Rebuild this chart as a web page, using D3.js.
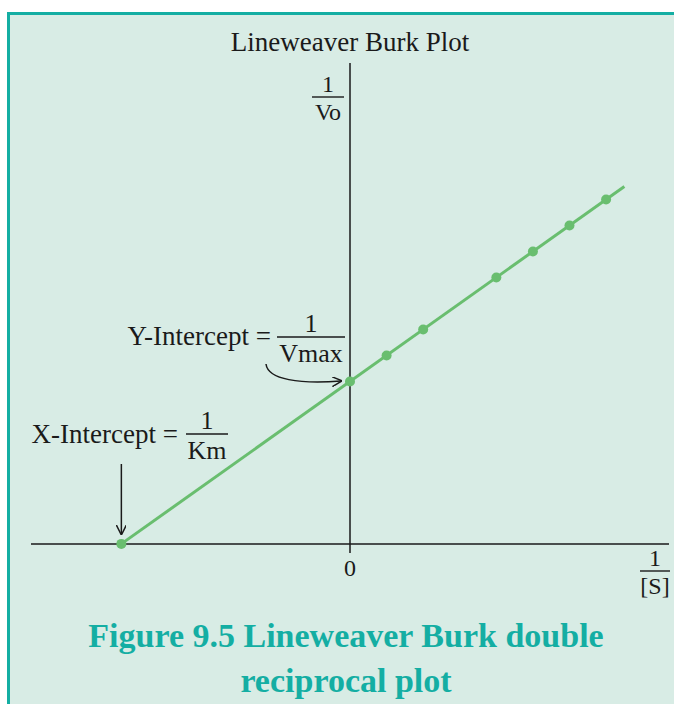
<!DOCTYPE html>
<html>
<head>
<meta charset="utf-8">
<script src="https://cdn.jsdelivr.net/npm/d3@7"></script>
<style>
  body { margin: 0; background: #fff; }
  svg { display: block; }
  text { font-family: "Liberation Serif", "DejaVu Serif", serif; fill: #1a1a1a; }
</style>
</head>
<body>
<svg width="674" height="704"></svg>
<script>
var svg = d3.select("svg"),
  width = +svg.attr("width"),
  height = +svg.attr("height");

// data: 1/[S] values and matching 1/Vo values
var invS = [1, 2, 4, 5, 6, 7];
var invV = [7.25, 8.25, 10.25, 11.25, 12.25, 13.25];
var xIntercept = [-6.25, 0];
var yIntercept = [0, 6.25];
var lineEnd = [7.5, 13.75];

var x = d3.scaleLinear().domain([-8.72, 8.72]).range([31, 669]);
var y = d3.scaleLinear().domain([-0.35, 18.5]).range([553, 63]);

var green = "#69be6f";
var teal = "#14aea3";

// panel
svg.append("rect")
  .attr("x", 8.5).attr("y", 13.5)
  .attr("width", 680).attr("height", 700)
  .attr("fill", "#d8ece5")
  .attr("stroke", teal)
  .attr("stroke-width", 3);

var defs = svg.append("defs");
defs.append("marker")
  .attr("id", "arrow")
  .attr("viewBox", "0 0 10 10")
  .attr("refX", 9).attr("refY", 5)
  .attr("markerWidth", 10).attr("markerHeight", 10)
  .attr("markerUnits", "userSpaceOnUse")
  .attr("orient", "auto")
  .append("path")
  .attr("d", "M0,0 L10,5 L0,10")
  .attr("fill", "none")
  .attr("stroke", "#1a1a1a")
  .attr("stroke-width", 1.5);

// axes
svg.append("line")
  .attr("x1", x.range()[0]).attr("x2", x.range()[1])
  .attr("y1", y(0)).attr("y2", y(0))
  .attr("stroke", "#1a1a1a").attr("stroke-width", 1.5);

svg.append("line")
  .attr("x1", x(0)).attr("x2", x(0))
  .attr("y1", y.range()[0]).attr("y2", y.range()[1])
  .attr("stroke", "#1a1a1a").attr("stroke-width", 1.5);

// regression line
svg.append("line")
  .attr("x1", x(xIntercept[0])).attr("y1", y(xIntercept[1]))
  .attr("x2", x(lineEnd[0])).attr("y2", y(lineEnd[1]))
  .attr("stroke", green).attr("stroke-width", 3);

var pts = invS.map(function(d, i) { return [d, invV[i]]; });
pts.push(xIntercept, yIntercept);

svg.append("g")
  .selectAll("circle")
  .data(pts)
  .enter().append("circle")
  .attr("cx", function(d) { return x(d[0]); })
  .attr("cy", function(d) { return y(d[1]); })
  .attr("r", 5)
  .attr("fill", green);

// fraction helper
function fraction(cx, barY, num, den, w, size) {
  var g = svg.append("g").attr("font-size", size);
  g.append("text").attr("x", cx).attr("y", barY - 5)
    .attr("text-anchor", "middle").text(num);
  g.append("line")
    .attr("x1", cx - w / 2).attr("x2", cx + w / 2)
    .attr("y1", barY).attr("y2", barY)
    .attr("stroke", "#1a1a1a").attr("stroke-width", 1.4);
  g.append("text").attr("x", cx).attr("y", barY + size * 0.95)
    .attr("text-anchor", "middle").text(den);
  return g;
}

svg.append("text")
  .attr("x", 350).attr("y", 51)
  .attr("text-anchor", "middle")
  .attr("font-size", 27)
  .text("Lineweaver Burk Plot");

fraction(328, 97, "1", "Vo", 32, 24);

// y intercept label
svg.append("text")
  .attr("x", 271).attr("y", 345)
  .attr("text-anchor", "end")
  .attr("font-size", 27)
  .text("Y-Intercept =");
fraction(311, 337, "1", "Vmax", 68, 26);

svg.append("path")
  .attr("d", "M266,364 C268,380 300,384 341,381")
  .attr("fill", "none")
  .attr("stroke", "#1a1a1a")
  .attr("stroke-width", 1.5)
  .attr("marker-end", "url(#arrow)");

// x intercept label
svg.append("text")
  .attr("x", 178).attr("y", 443)
  .attr("text-anchor", "end")
  .attr("font-size", 27)
  .text("X-Intercept =");
fraction(207, 434, "1", "Km", 42, 26);

svg.append("line")
  .attr("x1", x(xIntercept[0])).attr("x2", x(xIntercept[0]))
  .attr("y1", 464).attr("y2", 534)
  .attr("stroke", "#1a1a1a").attr("stroke-width", 1.5)
  .attr("marker-end", "url(#arrow)");

svg.append("text")
  .attr("x", x(0)).attr("y", 576)
  .attr("text-anchor", "middle")
  .attr("font-size", 24)
  .text("0");

fraction(655, 571, "1", "[S]", 30, 24);

// caption
var cap = svg.append("g")
  .attr("font-size", 34)
  .attr("font-weight", "bold")
  .attr("text-anchor", "middle");
cap.append("text").attr("x", 346).attr("y", 647)
  .style("fill", teal).text("Figure 9.5 Lineweaver Burk double");
cap.append("text").attr("x", 346).attr("y", 692)
  .style("fill", teal).text("reciprocal plot");
</script>
</body>
</html>
